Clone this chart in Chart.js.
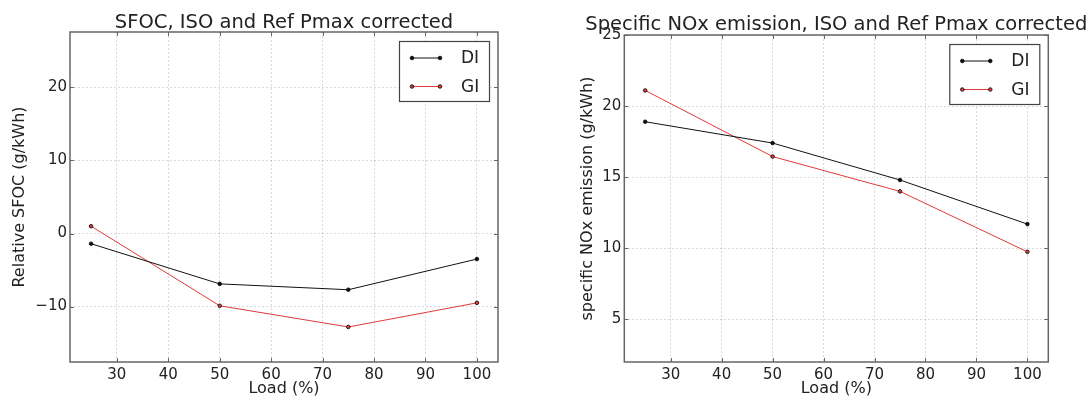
<!DOCTYPE html>
<html>
<head>
<meta charset="utf-8">
<script src="https://cdn.jsdelivr.net/npm/chart.js@4.4.0/dist/chart.umd.min.js"></script>
<style>
  html, body { margin: 0; padding: 0; background: #fff; }
  #wrap { position: relative; width: 1090px; height: 401px; overflow: hidden; }
  canvas { position: absolute; top: 0; }
</style>
</head>
<body>
<div id="wrap">
  <canvas id="sfoc" width="540" height="401" style="left:0"></canvas>
  <canvas id="nox" width="550" height="401" style="left:540px"></canvas>
</div>
<script>
// data
const loads = [25, 50, 75, 100];
const sfocDI = [-1.4, -6.9, -7.7, -3.5];
const sfocGI = [1.0, -9.9, -12.8, -9.5];
const noxDI = [18.9, 17.4, 14.8, 11.7];
const noxGI = [21.1, 16.45, 14.0, 9.75];
const xTicks = [30, 40, 50, 60, 70, 80, 90, 100];
const sfocTicks = [-10, 0, 10, 20];
const noxTicks = [5, 10, 15, 20, 25];

const FONT = 'DejaVu Sans';
const TXT = '#222';
const FRAME = '#666';

function fmt(v) {
  return v < 0 ? '\u2212' + Math.abs(v) : String(v);
}

// matplotlib-like frame, inward ticks, title and boxed legend
const mplLook = {
  id: 'mplLook',
  afterDraw(chart, args, o) {
    const ctx = chart.ctx;
    const ca = chart.chartArea;
    const xs = chart.scales.x, ys = chart.scales.y;
    ctx.save();
    ctx.strokeStyle = FRAME;
    ctx.lineWidth = 1;
    xs.ticks.forEach(t => {
      const px = Math.round(xs.getPixelForValue(t.value)) + 0.5;
      ctx.beginPath();
      ctx.moveTo(px, ca.bottom); ctx.lineTo(px, ca.bottom - 4);
      ctx.moveTo(px, ca.top); ctx.lineTo(px, ca.top + 4);
      ctx.stroke();
    });
    ys.ticks.forEach(t => {
      const py = Math.round(ys.getPixelForValue(t.value)) + 0.5;
      ctx.beginPath();
      ctx.moveTo(ca.left, py); ctx.lineTo(ca.left + 4, py);
      ctx.moveTo(ca.right, py); ctx.lineTo(ca.right - 4, py);
      ctx.stroke();
    });
    ctx.lineWidth = 1.5;
    ctx.strokeRect(ca.left, ca.top, ca.right - ca.left, ca.bottom - ca.top);

    // title
    ctx.fillStyle = TXT;
    ctx.font = '19.5px "' + FONT + '"';
    ctx.textAlign = 'center';
    ctx.textBaseline = 'alphabetic';
    ctx.fillText(o.title, (ca.left + ca.right) / 2, ca.top - o.titleGap);

    // legend
    const w = 90, h = 60;
    const lx = ca.right - 9 - w, ly = ca.top + 9;
    ctx.fillStyle = '#fff';
    ctx.fillRect(lx, ly, w, h);
    ctx.strokeStyle = '#444';
    ctx.lineWidth = 1.2;
    ctx.strokeRect(lx + 0.5, ly + 0.5, w, h);
    chart.data.datasets.forEach((ds, i) => {
      const y = ly + 17 + i * 28.5;
      ctx.strokeStyle = ds.borderColor;
      ctx.lineWidth = 1;
      ctx.beginPath();
      ctx.moveTo(lx + 13, y); ctx.lineTo(lx + 41, y);
      ctx.stroke();
      [lx + 13, lx + 41].forEach(cx => {
        ctx.beginPath();
        ctx.arc(cx, y, 1.8, 0, Math.PI * 2);
        ctx.fillStyle = ds.pointBackgroundColor;
        ctx.fill();
        ctx.strokeStyle = ds.pointBorderColor;
        ctx.lineWidth = 0.8;
        ctx.stroke();
      });
      ctx.fillStyle = TXT;
      ctx.font = '17px "' + FONT + '"';
      ctx.textAlign = 'left';
      ctx.textBaseline = 'middle';
      ctx.fillText(ds.label, lx + 62, y + 1);
    });
    ctx.restore();
  }
};

function series(label, values, color) {
  return {
    label: label,
    data: loads.map((x, i) => ({ x: x, y: values[i] })),
    borderColor: color,
    backgroundColor: color,
    borderWidth: 1,
    pointRadius: 1.8,
    pointBackgroundColor: color,
    pointBorderColor: '#000',
    pointBorderWidth: 0.8,
    tension: 0,
    fill: false
  };
}

function makeChart(id, cfg) {
  return new Chart(document.getElementById(id).getContext('2d'), {
    type: 'line',
    data: {
      datasets: [
        series('DI', cfg.di, '#111111'),
        series('GI', cfg.gi, '#e03a3a')
      ]
    },
    options: {
      responsive: false,
      animation: false,
      layout: { padding: { left: 0, right: cfg.padRight, top: cfg.padTop, bottom: 0 } },
      plugins: {
        legend: { display: false },
        tooltip: { enabled: false },
        mplLook: { title: cfg.title, titleGap: cfg.titleGap }
      },
      scales: {
        x: {
          type: 'linear',
          min: 20.9,
          max: 104.1,
          afterBuildTicks: s => { s.ticks = xTicks.map(v => ({ value: v })); },
          afterFit: s => { s.height = 39; },
          grid: { color: 'rgba(0,0,0,0.15)', lineWidth: 1, drawTicks: false },
          border: { display: false, dash: [2, 2] },
          ticks: { padding: 4, color: TXT, font: { family: FONT, size: 15 }, callback: v => fmt(v) },
          title: { display: true, text: 'Load (%)', color: TXT, font: { family: FONT, size: 16 }, padding: { top: 0, bottom: 3 } }
        },
        y: {
          type: 'linear',
          min: cfg.yMin,
          max: cfg.yMax,
          afterBuildTicks: s => { s.ticks = cfg.yTicks.map(v => ({ value: v })); },
          afterFit: s => { s.width = cfg.yWidth; },
          grid: { color: 'rgba(0,0,0,0.15)', lineWidth: 1, drawTicks: false },
          border: { display: false, dash: [2, 2] },
          ticks: { padding: 3, color: TXT, font: { family: FONT, size: 15 }, callback: v => fmt(v) },
          title: { display: true, text: cfg.yLabel, color: TXT, font: { family: FONT, size: 16 }, padding: { top: cfg.yTitlePad, bottom: 0 } }
        }
      }
    },
    plugins: [mplLook]
  });
}

makeChart('sfoc', {
  di: sfocDI, gi: sfocGI,
  title: 'SFOC, ISO and Ref Pmax corrected',
  titleGap: 4,
  yLabel: 'Relative SFOC (g/kWh)',
  yMin: -17.6, yMax: 27.6, yTicks: sfocTicks,
  yWidth: 70, yTitlePad: 10.4,
  padTop: 32, padRight: 42
});

makeChart('nox', {
  di: noxDI, gi: noxGI,
  title: 'Specific NOx emission, ISO and Ref Pmax corrected',
  titleGap: 5,
  yLabel: 'specific NOx emission (g/kWh)',
  yMin: 2, yMax: 25, yTicks: noxTicks,
  yWidth: 84.3, yTitlePad: 38.7,
  padTop: 35, padRight: 41.7
});
</script>
</body>
</html>
